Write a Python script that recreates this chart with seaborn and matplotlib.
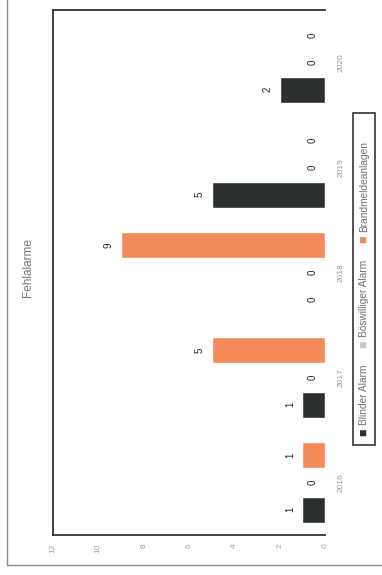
import matplotlib
matplotlib.use("Agg")
import matplotlib.pyplot as plt
import seaborn as sns
import pandas as pd
from matplotlib.patches import Rectangle
from matplotlib.lines import Line2D

# ---- data ----
years = ["2016", "2017", "2018", "2019", "2020"]
series = ["Blinder Alarm", "Böswilliger Alarm", "Brandmeldeanlagen"]
blinder = [1, 1, 0, 5, 2]
boeswillig = [0, 0, 0, 0, 0]
brandmelde = [1, 5, 9, 0, 0]
value_ticks = [0, 2, 4, 6, 8, 10, 12]
title = "Fehlalarme"
colors = ["#2b302e", "#c8c8c8", "#f58a5a"]

rows = []
for name, vals in zip(series, [blinder, boeswillig, brandmelde]):
    for y, v in zip(years, vals):
        rows.append({"Jahr": y, "Wert": v, "Art": name})
df = pd.DataFrame(rows)

sns.set_theme(style="white")
plt.rcParams["font.family"] = ["Liberation Sans", "DejaVu Sans"]

W, H = 382, 575
fig = plt.figure(figsize=(W / 100, H / 100), dpi=100)
ax = fig.add_axes([53 / W, (H - 535) / H, 272 / W, 525 / H])

sns.barplot(data=df, x="Wert", y="Jahr", hue="Art", order=years,
            hue_order=series, palette=colors, orient="h", width=0.78,
            gap=0.05, legend=False, ax=ax, saturation=1)

ax.set_xlim(12, 0)
ax.set_ylim(-0.5, len(years) - 0.5)
ax.set_xticks(value_ticks)
ax.set_xticklabels([str(t) for t in value_ticks], rotation=90)
ax.yaxis.tick_right()
ax.set_yticks(range(len(years)))
ax.set_yticklabels(years, rotation=90, va="center")
ax.tick_params(axis="x", length=0, pad=6, labelsize=6, labelcolor="#a0a0a0")
ax.tick_params(axis="y", length=0, pad=9, labelsize=6, labelcolor="#9a9a9a")
ax.set_xlabel("")
ax.set_ylabel("")
for side in ["left", "top", "bottom"]:
    ax.spines[side].set_visible(True)
    ax.spines[side].set_color("#333333")
    ax.spines[side].set_linewidth(1.3)
ax.spines["right"].set_visible(False)

# value labels
for cont in ax.containers:
    for bar in cont:
        v = bar.get_width()
        yc = bar.get_y() + bar.get_height() / 2
        ax.annotate(f"{v:g}", xy=(v, yc), xytext=(-9, 0),
                    textcoords="offset points", rotation=90,
                    ha="center", va="center", fontsize=7, color="#222222")

# title
fig.text(28 / W, (H - 268) / H, title, rotation=90, ha="center", va="center",
         fontsize=8.5, color="#777777")

# manual rotated legend
fig.patches.append(Rectangle((353 / W, (H - 445) / H), 22 / W, 332 / H,
                             transform=fig.transFigure, fill=False,
                             edgecolor="#333333", linewidth=1.2))
prev = None
for i, (name, col) in enumerate(zip(series, colors)):
    if prev is None:
        mk = fig.text(364 / W, (H - 432) / H, "■", rotation=90, ha="center",
                      va="center", fontsize=9, color=col)
    else:
        mk = ax.annotate("■", xy=(0.5, 1), xycoords=prev, xytext=(0, 12),
                         textcoords="offset points", rotation=90, ha="center",
                         va="bottom", fontsize=9, color=col)
    lb = ax.annotate(name, xy=(0.5, 1), xycoords=mk, xytext=(0, 2.5),
                     textcoords="offset points", rotation=90, ha="center",
                     va="bottom", fontsize=7.3, color="#707070",
                     annotation_clip=False)
    prev = lb

# outer border
fig.lines.append(Line2D([7 / W, 7 / W], [(H - 565) / H, 1], transform=fig.transFigure,
                        color="#8a8a8a", linewidth=1))
fig.lines.append(Line2D([7 / W, 1], [(H - 565) / H, (H - 565) / H],
                        transform=fig.transFigure, color="#8a8a8a", linewidth=1))

fig.savefig("out.png", dpi=100)
